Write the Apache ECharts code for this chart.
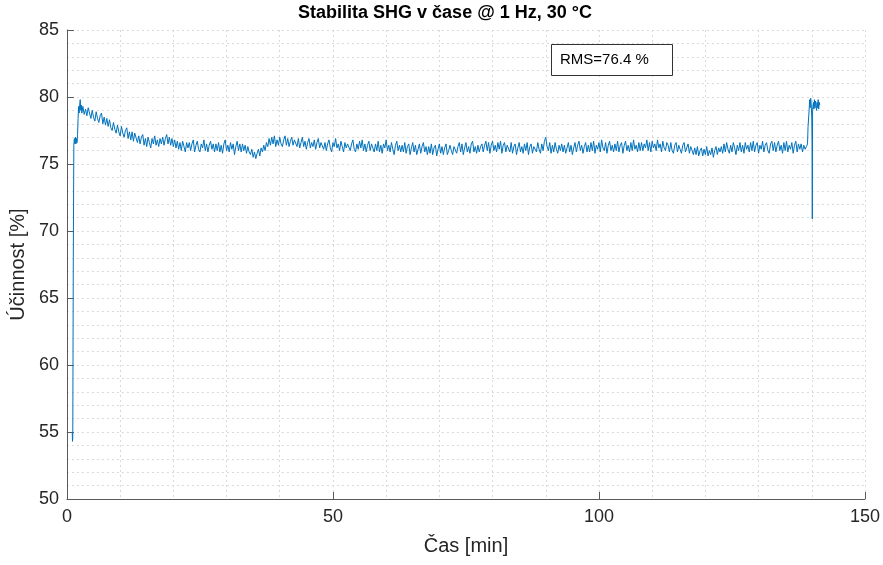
<!DOCTYPE html>
<html>
<head>
<meta charset="utf-8">
<script src="https://cdn.jsdelivr.net/npm/echarts@6/dist/echarts.min.js"></script>
<style>html,body{margin:0;padding:0;background:#fff}#c{width:883px;height:565px}</style>
</head>
<body>
<div id="c"></div>
<script>
// ---- data ----
const titleText = 'Stabilita SHG v čase @ 1 Hz, 30 °C';
const xName = 'Čas [min]';
const yName = 'Účinnost [%]';
const rmsText = 'RMS=76.4 %';
const xTicks = [0, 50, 100, 150];
const yTicks = [50, 55, 60, 65, 70, 75, 80, 85];

// start-up transient (time [min], efficiency [%])
const startTime = [1.0, 1.05, 1.1, 1.2, 1.3, 1.4, 1.5, 1.6, 1.7, 1.8, 1.9, 2.0, 2.1, 2.2, 2.3, 2.4, 2.5, 2.6, 2.7, 2.8];
const startVal  = [55.0, 54.3, 54.6, 68.0, 76.4, 76.9, 76.5, 77.0, 76.5, 76.9, 76.6, 77.2, 78.4, 79.3, 78.8, 79.4, 79.8, 79.0, 79.4, 78.8];

// main run, sampled every 0.25 min from 3.0 min (one row = 5 min)
const mainStart = 3.0;
const mainStep = 0.25;
const mainVal = [
  79.3, 78.7, 79.1, 78.6, 79.2, 78.8, 78.4, 79.0, 78.5, 78.2, 78.9, 78.4, 78.1, 78.6, 78.8, 78.0, 78.5, 77.9, 78.4, 77.8,
  78.3, 77.7, 77.5, 78.1, 77.6, 77.3, 77.9, 77.4, 77.1, 77.8, 77.3, 77.0, 77.5, 77.7, 76.9, 77.4, 76.8, 77.4, 76.7, 77.3,
  77.2, 76.6, 77.1, 76.5, 77.0, 77.2, 76.4, 76.9, 76.3, 77.0, 76.6, 76.2, 76.9, 76.5, 77.1, 76.4, 76.8, 76.3, 76.9, 76.5,
  77.0, 76.4, 76.9, 77.2, 76.5, 77.0, 76.4, 76.9, 76.3, 76.8, 76.2, 76.7, 76.1, 76.6, 76.0, 76.7, 76.3, 75.9, 76.6, 76.2,
  76.6, 76.0, 76.5, 76.8, 75.9, 76.4, 76.7, 76.1, 75.9, 76.5, 76.2, 76.8, 76.0, 76.5, 75.9, 76.4, 76.7, 76.1, 76.5, 75.9,
  76.5, 76.0, 76.6, 75.9, 76.4, 75.8, 76.5, 76.8, 76.0, 76.4, 75.9, 76.6, 76.1, 76.5, 75.7, 76.3, 76.7, 76.0, 76.5, 75.9,
  76.5, 76.0, 76.4, 75.8, 76.3, 75.9, 75.7, 76.1, 75.5, 75.9, 75.4, 75.8, 76.1, 75.6, 76.2, 75.9, 76.4, 76.0, 76.6, 76.3,
  76.9, 76.4, 77.0, 76.5, 77.1, 76.3, 76.8, 76.4, 77.0, 76.5, 76.3, 76.8, 77.1, 76.4, 76.9, 76.3, 76.7, 77.0, 76.4, 76.8,
  76.8, 76.3, 76.9, 76.2, 76.6, 77.0, 76.3, 76.7, 76.1, 76.6, 76.9, 76.2, 76.6, 76.3, 76.8, 76.1, 76.6, 76.9, 76.2, 76.6,
  76.7, 76.1, 76.6, 76.0, 76.5, 76.8, 76.2, 75.9, 76.6, 76.3, 76.9, 76.2, 76.5, 76.0, 76.7, 76.3, 75.9, 76.6, 76.2, 76.5,
  76.6, 76.0, 76.5, 76.8, 76.1, 75.9, 76.5, 76.1, 76.7, 76.2, 76.8, 76.0, 76.5, 75.9, 76.4, 76.7, 76.0, 76.5, 76.2, 75.9,
  76.5, 76.0, 76.7, 75.9, 76.4, 75.8, 76.5, 76.2, 76.8, 76.0, 76.4, 75.9, 76.6, 76.1, 75.7, 76.4, 76.7, 76.0, 76.4, 75.9,
  76.4, 75.9, 76.6, 75.8, 76.3, 76.5, 75.7, 76.2, 76.6, 75.9, 76.4, 75.7, 76.1, 76.5, 75.8, 76.3, 76.6, 75.9, 76.3, 75.7,
  76.3, 75.8, 76.5, 75.7, 76.2, 76.4, 75.6, 76.1, 76.5, 75.8, 76.3, 75.7, 76.2, 76.5, 75.7, 76.0, 76.4, 76.0, 75.7, 76.3,
  76.4, 75.8, 76.3, 76.6, 75.9, 76.5, 75.7, 76.2, 76.6, 75.9, 76.3, 75.8, 76.5, 76.7, 75.9, 76.3, 75.8, 76.4, 75.9, 76.3,
  76.5, 75.9, 76.4, 76.7, 76.0, 76.6, 75.8, 76.4, 76.7, 76.0, 76.4, 75.9, 76.6, 76.1, 76.7, 75.8, 76.4, 76.6, 75.9, 76.4,
  76.4, 75.9, 76.6, 75.8, 76.3, 76.5, 75.7, 76.2, 76.6, 75.9, 76.3, 75.8, 76.5, 76.0, 76.6, 75.7, 76.3, 76.5, 75.8, 76.3,
  76.4, 75.9, 76.6, 76.1, 75.8, 76.5, 76.0, 76.7, 77.0, 76.3, 76.0, 76.6, 75.8, 76.4, 75.9, 76.6, 76.1, 75.8, 76.4, 76.0,
  76.5, 75.9, 76.4, 75.8, 76.2, 76.6, 75.9, 76.4, 75.7, 76.2, 76.6, 75.9, 76.4, 76.7, 76.0, 76.4, 75.8, 76.3, 76.6, 75.9,
  76.4, 75.9, 76.6, 76.0, 76.7, 75.8, 76.4, 76.1, 76.6, 75.9, 76.8, 76.2, 76.0, 76.6, 75.8, 76.4, 76.7, 76.0, 76.4, 75.9,
  76.5, 76.0, 76.7, 75.9, 76.4, 76.6, 75.8, 76.4, 76.7, 76.0, 76.4, 75.9, 76.6, 76.0, 76.8, 76.1, 76.4, 75.9, 76.6, 76.0,
  76.6, 76.0, 76.5, 76.2, 76.8, 76.0, 76.6, 75.9, 76.7, 76.2, 76.5, 76.0, 76.8, 76.2, 76.5, 75.9, 76.7, 76.2, 76.0, 76.6,
  76.4, 75.9, 76.6, 76.0, 75.8, 76.4, 76.6, 75.9, 76.4, 76.1, 75.8, 76.4, 76.6, 75.9, 76.2, 76.5, 75.8, 76.3, 76.0, 75.7,
  76.2, 75.7, 76.3, 75.6, 76.0, 76.2, 75.6, 76.1, 75.7, 76.3, 75.6, 76.0, 75.7, 76.2, 75.5, 76.0, 76.3, 75.7, 76.2, 75.9,
  76.3, 75.8, 76.5, 75.9, 76.6, 76.1, 75.8, 76.4, 75.9, 76.6, 76.2, 75.7, 76.4, 76.0, 76.6, 75.9, 76.4, 75.8, 76.6, 76.1,
  76.4, 75.9, 76.6, 76.0, 76.7, 75.9, 76.4, 76.6, 75.8, 76.4, 76.1, 76.7, 75.9, 76.4, 76.6, 76.0, 75.8, 76.5, 76.7, 76.0,
  76.6, 75.9, 76.4, 76.7, 76.0, 76.4, 75.8, 76.6, 76.0, 76.7, 75.9, 76.4, 76.1, 76.6, 75.8, 76.4, 76.7, 75.9, 76.5, 76.1,
  76.5, 75.9, 76.4, 76.1
];

// end of run (time [min], efficiency [%])
const endTime = [139.0, 139.2, 139.3, 139.5, 139.6, 139.7, 139.8, 139.9, 140.0, 140.05, 140.1, 140.15, 140.3, 140.4, 140.5, 140.6, 140.7, 140.9, 141.0, 141.1, 141.2, 141.3, 141.4, 141.5];
const endVal  = [76.3, 76.5, 77.8, 79.0, 79.8, 79.2, 79.9, 79.4, 78.5, 76.6, 70.9, 79.0, 79.6, 79.1, 79.8, 79.2, 79.7, 79.0, 79.6, 79.2, 79.8, 79.1, 79.6, 79.4];

// ---- build series data ----
const seriesData = [];
startTime.forEach((t, i) => seriesData.push([t, startVal[i]]));
mainVal.forEach((v, i) => seriesData.push([mainStart + i * mainStep, v]));
endTime.forEach((t, i) => seriesData.push([t, endVal[i]]));

const FONT = '"Liberation Sans", Arial, Helvetica, sans-serif';
const TXT = '#262626';
const AX = '#5a5a5a';
const GRIDC = '#dadada';

const chart = echarts.init(document.getElementById('c'), null, {renderer: 'canvas'});
chart.setOption({
  animation: false,
  backgroundColor: '#fff',
  grid: {left: 66, right: 17, top: 30, bottom: 66, containLabel: false},
  xAxis: {
    type: 'value', min: xTicks[0], max: xTicks[xTicks.length - 1], interval: 50,
    name: xName, nameLocation: 'middle', nameGap: 37,
    nameTextStyle: {fontFamily: FONT, fontSize: 20, color: TXT},
    axisLine: {show: true, onZero: false, lineStyle: {color: AX, width: 1}},
    axisTick: {show: true, inside: true, length: 7, lineStyle: {color: AX}},
    axisLabel: {fontFamily: FONT, fontSize: 18, color: TXT, margin: 9},
    splitLine: {show: true, lineStyle: {color: GRIDC, type: [2, 3], width: 1}},
    minorTick: {show: false, splitNumber: 5},
    minorSplitLine: {show: true, lineStyle: {color: GRIDC, type: [2, 3], width: 1}}
  },
  yAxis: {
    type: 'value', min: yTicks[0], max: yTicks[yTicks.length - 1], interval: 5,
    name: yName, nameLocation: 'middle', nameGap: 34, nameRotate: 90,
    nameTextStyle: {fontFamily: FONT, fontSize: 20, color: TXT},
    axisLine: {show: true, onZero: false, lineStyle: {color: AX, width: 1}},
    axisTick: {show: true, inside: true, length: 7, lineStyle: {color: AX}},
    axisLabel: {fontFamily: FONT, fontSize: 18, color: TXT, margin: 8},
    splitLine: {show: true, lineStyle: {color: GRIDC, type: [2, 3], width: 1}},
    minorTick: {show: false, splitNumber: 5},
    minorSplitLine: {show: true, lineStyle: {color: GRIDC, type: [2, 3], width: 1}}
  },
  series: [{
    type: 'line', data: seriesData, showSymbol: false, symbol: 'none',
    lineStyle: {color: '#0072BD', width: 1},
    clip: true, z: 3
  }],
  graphic: [
    {type: 'text', x: 445, y: 13,
     style: {text: titleText, font: 'bold 18px ' + FONT, fill: '#000', align: 'center', verticalAlign: 'middle'}},
    {type: 'rect', shape: {x: 551.5, y: 44.5, width: 121, height: 31},
     style: {fill: '#fff', stroke: '#333', lineWidth: 1}, z: 10},
    {type: 'text', x: 560, y: 60,
     style: {text: rmsText, font: '15px ' + FONT, fill: '#000', verticalAlign: 'middle'}, z: 11}
  ]
});
</script>
</body>
</html>
